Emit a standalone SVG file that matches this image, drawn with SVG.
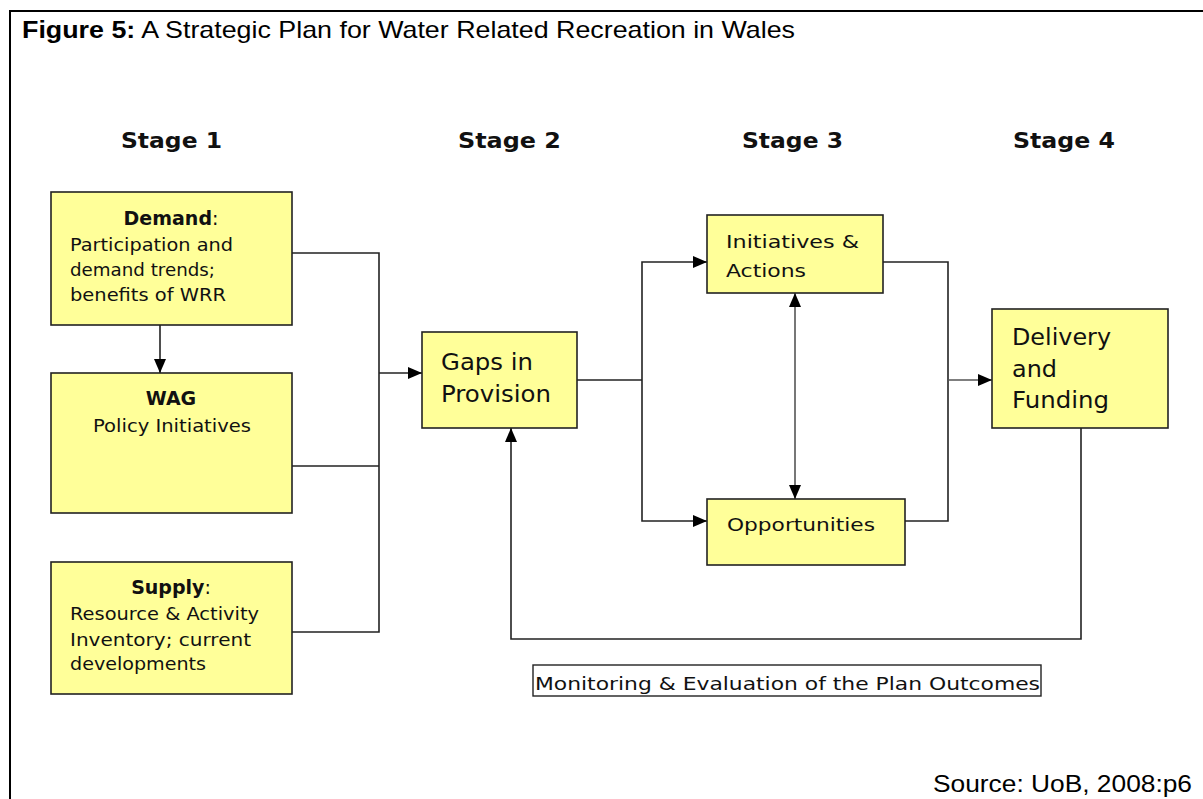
<svg xmlns="http://www.w3.org/2000/svg" width="1203" height="799" viewBox="0 0 1203 799">
<style>
.box{fill:#ffff99;stroke:#222;stroke-width:1.6}
.t{font-family:"DejaVu Sans",Verdana,sans-serif;font-size:18.5px;fill:#111}
.tb{font-family:"DejaVu Sans",Verdana,sans-serif;font-size:19px;font-weight:bold;fill:#111}
.stage{font-family:"DejaVu Sans",Verdana,sans-serif;font-size:21px;font-weight:bold;fill:#111}
.big{font-family:"DejaVu Sans",Verdana,sans-serif;font-size:23.5px;fill:#111}
.narrow{font-family:"Liberation Sans Narrow","Liberation Sans",Arial,sans-serif;font-size:24px;fill:#000}
.ln{fill:none;stroke:#222;stroke-width:1.6}
.lg{fill:none;stroke:#555;stroke-width:1.6}
</style>
<defs>
<marker id="ah" viewBox="0 0 14 12" refX="14" refY="6" markerWidth="14" markerHeight="12" markerUnits="userSpaceOnUse" orient="auto-start-reverse">
<path d="M0,0 L14,6 L0,12 Z" fill="#000"/>
</marker>
</defs>
<rect width="1203" height="799" fill="#fff"/>
<path d="M10,799 V11 H1203" fill="none" stroke="#000" stroke-width="2"/>
<text class="narrow" x="22" y="38" textLength="773" lengthAdjust="spacingAndGlyphs"><tspan font-weight="bold">Figure 5:</tspan> A Strategic Plan for Water Related Recreation in Wales</text>
<g id="stages">
<text class="stage" x="121" y="148" textLength="101" lengthAdjust="spacingAndGlyphs">Stage 1</text>
<text class="stage" x="458" y="148" textLength="103" lengthAdjust="spacingAndGlyphs">Stage 2</text>
<text class="stage" x="742" y="148" textLength="101" lengthAdjust="spacingAndGlyphs">Stage 3</text>
<text class="stage" x="1013" y="148" textLength="102" lengthAdjust="spacingAndGlyphs">Stage 4</text>
</g>
<g id="connectors">
<line class="ln" x1="160" y1="325" x2="160" y2="373" marker-end="url(#ah)"/>
<path class="ln" d="M292,253 H379 V632 H292"/>
<path class="ln" d="M292,466 H379"/>
<line class="ln" x1="379" y1="373" x2="422" y2="373" marker-end="url(#ah)"/>
<path class="ln" d="M577,380 H642"/>
<path class="ln" d="M707,262 H642 V521 H707" marker-start="url(#ah)" marker-end="url(#ah)"/>
<line class="lg" x1="795" y1="293" x2="795" y2="499" marker-start="url(#ah)" marker-end="url(#ah)"/>
<path class="ln" d="M883,262 H948 V521 H905"/>
<line class="lg" x1="948" y1="380" x2="992" y2="380" marker-end="url(#ah)"/>
<path class="ln" d="M1081,428 V639 H511 V428" marker-end="url(#ah)"/>
</g>
<g id="demand">
<rect class="box" x="51" y="192" width="241" height="133"/>
<text class="tb" x="171" y="225" text-anchor="middle">Demand<tspan font-weight="normal">:</tspan></text>
<text class="t" x="70" y="251" textLength="163" lengthAdjust="spacingAndGlyphs">Participation and</text>
<text class="t" x="70" y="276" textLength="145" lengthAdjust="spacingAndGlyphs">demand trends;</text>
<text class="t" x="70" y="301" textLength="156" lengthAdjust="spacingAndGlyphs">benefits of WRR</text>
</g>
<g id="wag">
<rect class="box" x="51" y="373" width="241" height="140"/>
<text class="tb" x="171" y="405" text-anchor="middle">WAG</text>
<text class="t" x="172" y="432" text-anchor="middle" textLength="158" lengthAdjust="spacingAndGlyphs">Policy Initiatives</text>
</g>
<g id="supply">
<rect class="box" x="51" y="562" width="241" height="132"/>
<text class="tb" x="171" y="594" text-anchor="middle">Supply<tspan font-weight="normal">:</tspan></text>
<text class="t" x="70" y="620" textLength="189" lengthAdjust="spacingAndGlyphs">Resource &amp; Activity</text>
<text class="t" x="70" y="646" textLength="181" lengthAdjust="spacingAndGlyphs">Inventory; current</text>
<text class="t" x="70" y="670" textLength="136" lengthAdjust="spacingAndGlyphs">developments</text>
</g>
<g id="gaps">
<rect class="box" x="422" y="332" width="155" height="96"/>
<text class="big" x="441" y="370" textLength="92" lengthAdjust="spacingAndGlyphs">Gaps in</text>
<text class="big" x="441" y="402" textLength="110" lengthAdjust="spacingAndGlyphs">Provision</text>
</g>
<g id="initiatives">
<rect class="box" x="707" y="215" width="176" height="78"/>
<text class="t" x="726" y="248" font-size="19.5" textLength="133" lengthAdjust="spacingAndGlyphs">Initiatives &amp;</text>
<text class="t" x="726" y="277" font-size="19.5" textLength="80" lengthAdjust="spacingAndGlyphs">Actions</text>
</g>
<g id="opportunities">
<rect class="box" x="707" y="499" width="198" height="66"/>
<text class="t" x="727" y="531" font-size="19.5" textLength="148" lengthAdjust="spacingAndGlyphs">Opportunities</text>
</g>
<g id="delivery">
<rect class="box" x="992" y="309" width="176" height="119"/>
<text class="big" x="1012" y="345" textLength="99" lengthAdjust="spacingAndGlyphs">Delivery</text>
<text class="big" x="1012" y="377" textLength="45" lengthAdjust="spacingAndGlyphs">and</text>
<text class="big" x="1012" y="408" textLength="97" lengthAdjust="spacingAndGlyphs">Funding</text>
</g>
<g id="monitoring">
<rect x="533" y="665" width="508" height="31" fill="none" stroke="#222" stroke-width="1.4"/>
<text class="t" x="535" y="690" font-size="19.5" fill="#222" textLength="505" lengthAdjust="spacingAndGlyphs">Monitoring &amp; Evaluation of the Plan Outcomes</text>
</g>
<text class="narrow" x="1192" y="792" text-anchor="end" textLength="259" lengthAdjust="spacingAndGlyphs">Source: UoB, 2008:p6</text>
</svg>
